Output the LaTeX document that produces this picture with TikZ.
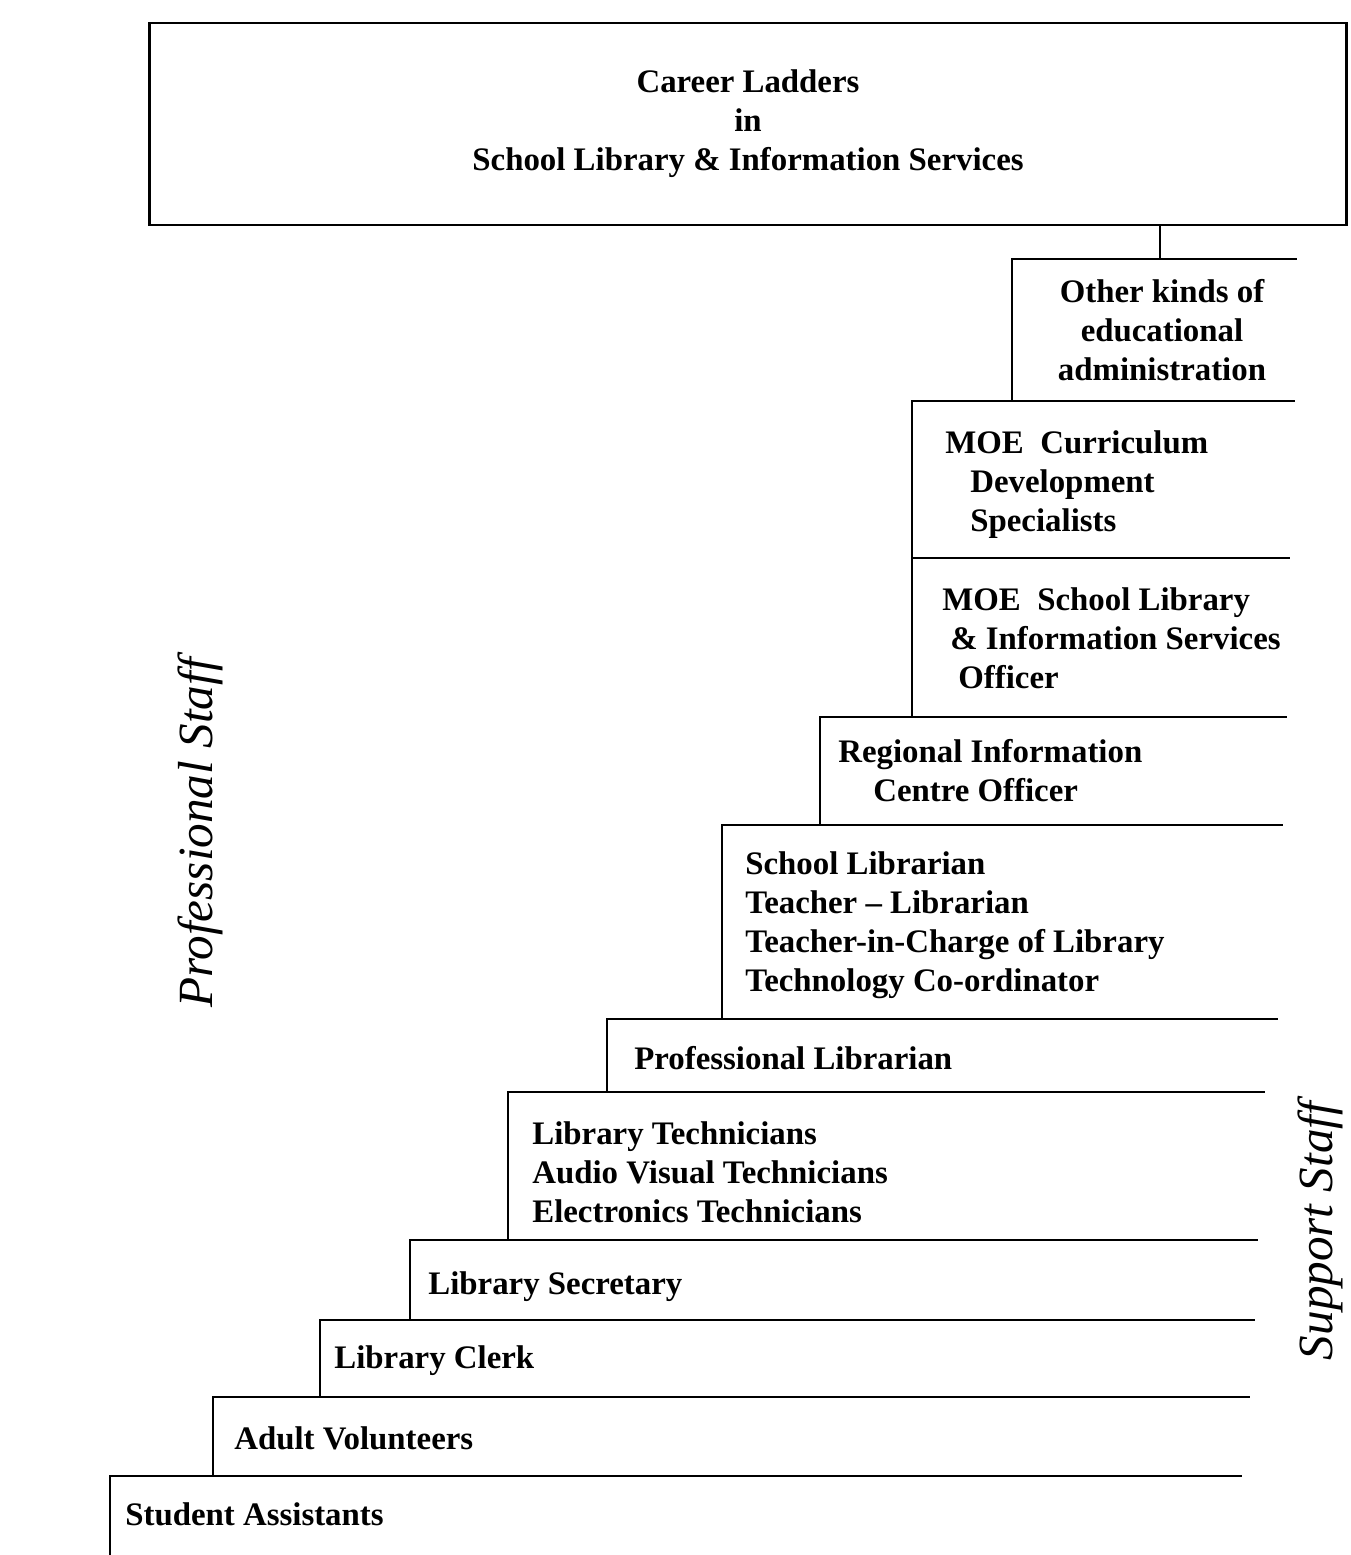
\documentclass[tikz,border=0pt]{standalone}
\usepackage{fontspec}
\setmainfont{Liberation Serif}

\begin{document}
\begin{tikzpicture}[x=0.02cm,y=-0.02cm]

	\tikzstyle{heading} = [rectangle, draw=black, line width=1.3pt, minimum width=23.94cm, minimum height=4.04cm, align=center, font=\fontsize{18.7}{22.2}\selectfont\bfseries]
	\tikzstyle{steptext} = [anchor=west, align=left, inner sep=0pt, font=\fontsize{18.7}{22.2}\selectfont\bfseries]
	\tikzstyle{side} = [rotate=90, inner sep=0pt, font=\fontsize{28}{32}\selectfont\itshape]
	\tikzstyle{tread} = [line width=1.2pt]

	\useasboundingbox (0,0) rectangle (1350,1555);

	% heading box
	\node (title) [heading] at (748,124) {Career Ladders\\in\\School Library \& Information Services};

	% one tread per rung, from its left corner out to the right
	\foreach \x/\y/\r [count=\i] in {110/1476/1242, 213/1397/1250, 320/1320/1255, 410/1240/1258, 508/1092/1265, 607/1019/1278, 722/825/1283, 820/717/1287, 912/558/1290, 912/401/1295, 1012/259/1297}{
		\coordinate (t\i) at (\x,\y);
		\draw[tread] (t\i) -- (\r,\y);
	}

	% risers up the left side, joined to the heading
	\coordinate (joint) at (1160,259);
	\draw[tread] (110,1555) -- (t1) -| (t2) -| (t3) -| (t4) -| (t5) -| (t6) -| (t7) -| (t8) -| (t10) -| (t11) -- (joint) -- (joint |- title.south);

	% rungs
	\node (student) [steptext] at (125,1514) {Student Assistants};
	\node (adult) [steptext] at (234,1438) {Adult Volunteers};
	\node (clerk) [steptext] at (334,1361) {Library Clerk};
	\node (secretary) [steptext] at (428,1287) {Library Secretary};
	\node (technicians) [steptext] at (532,1172) {Library Technicians\\Audio Visual Technicians\\Electronics Technicians};
	\node (proflib) [steptext] at (634,1058) {Professional Librarian};
	\node (schoollib) [steptext] at (745,925) {School Librarian\\Teacher -- Librarian\\Teacher-in-Charge of Library\\Technology Co-ordinator};
	\node (regional) [steptext] at (838,771) {Regional Information\\\hspace*{0.7cm}Centre Officer};
	\node (moesl) [steptext] at (942,638) {MOE\ \ School Library\\\hspace*{0.16cm}\& Information Services\\\hspace*{0.32cm}Officer};
	\node (moecd) [steptext] at (945,485) {MOE\ \ Curriculum\\\hspace*{0.5cm}Development\\\hspace*{0.5cm}Specialists};
	\node (other) [steptext, anchor=center, align=center] at (1162,330) {Other kinds of\\educational\\administration};

	% side captions
	\node (professional) [side] at (200,833) {Professional Staff};
	\node (support) [side] at (1320,1231) {Support Staff};

\end{tikzpicture}
\end{document}
